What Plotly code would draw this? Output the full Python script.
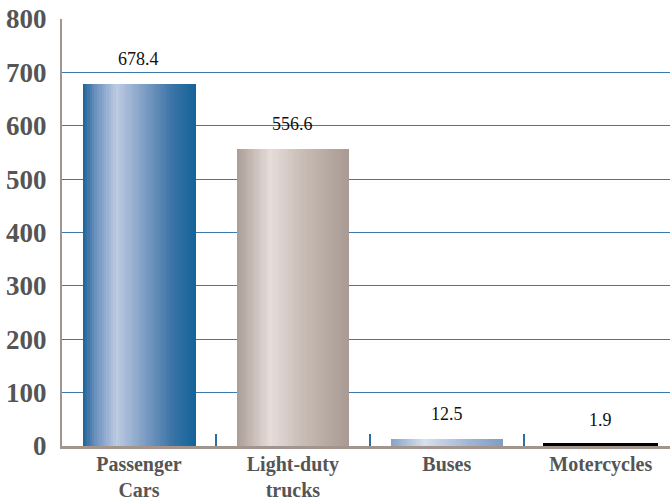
import plotly.graph_objects as go

# Vehicle categories and their values
categories = ["Passenger<br>Cars", "Light-duty<br>trucks", "Buses", "Motercycles"]
values = [678.4, 556.6, 12.5, 1.9]
value_labels = ["678.4", "556.6", "12.5", "1.9"]
y_ticks = [0, 100, 200, 300, 400, 500, 600, 700, 800]

# Horizontal colour ramps used to shade each column (position, colour)
ramps = [
    [(0.0, "#1d6397"), (0.12, "#6f93c0"), (0.3, "#bdcbe2"), (0.55, "#7d9dc4"), (0.8, "#3a73a6"), (1.0, "#13649a")],
    [(0.0, "#aa9d95"), (0.3, "#e6dcd9"), (0.6, "#c7bbb4"), (1.0, "#a89a92")],
    [(0.0, "#86a2c7"), (0.3, "#d8e0ec"), (0.7, "#a0b5d3"), (1.0, "#7c9dc4")],
    [(0.0, "#000000"), (1.0, "#000000")],
]

SERIF = "Liberation Serif, Times New Roman, serif"


def hex_to_rgb(h):
    h = h.lstrip("#")
    return tuple(int(h[i:i + 2], 16) for i in (0, 2, 4))


def ramp_color(stops, t):
    for (p0, c0), (p1, c1) in zip(stops[:-1], stops[1:]):
        if p0 <= t <= p1:
            f = 0 if p1 == p0 else (t - p0) / (p1 - p0)
            a, b = hex_to_rgb(c0), hex_to_rgb(c1)
            return "rgb({},{},{})".format(*[round(a[k] + (b[k] - a[k]) * f) for k in range(3)])
    return stops[-1][1]


bar_width = 0.73
n_strips = 48
strip_w = bar_width / n_strips

fig = go.Figure()

# Each column is built from thin vertical strips so it can carry a shaded fill
for i in range(n_strips):
    t = (i + 0.5) / n_strips
    fig.add_trace(go.Bar(
        x=categories,
        y=values,
        width=strip_w * 1.15,
        offset=-bar_width / 2 + i * strip_w,
        marker=dict(color=[ramp_color(r, t) for r in ramps], line=dict(width=0)),
        hoverinfo="skip",
        showlegend=False,
    ))

# Outline pass (only the motorcycle column gets a visible edge)
fig.add_trace(go.Bar(
    x=categories,
    y=values,
    width=bar_width,
    offset=-bar_width / 2,
    marker=dict(color="rgba(0,0,0,0)",
                line=dict(width=[0, 0, 0, 3], color="#000000")),
    hovertemplate="%{y}<extra></extra>",
    showlegend=False,
))

# Value labels above each column
for cat, val, lab in zip(categories, values, value_labels):
    fig.add_annotation(
        x=cat, y=val, text=lab, showarrow=False,
        yanchor="bottom", yshift=13,
        font=dict(family=SERIF, size=18, color="#111111"),
    )

fig.update_layout(
    width=670, height=500,
    margin=dict(l=62, r=0, t=19, b=54, autoexpand=False),
    paper_bgcolor="white",
    plot_bgcolor="white",
    barmode="overlay",
    bargap=0,
    showlegend=False,
    font=dict(family=SERIF),
    xaxis=dict(
        type="category",
        categoryorder="array",
        categoryarray=categories,
        range=[-0.5, 3.45],
        tickson="boundaries",
        ticks="inside",
        ticklen=12,
        tickwidth=1.5,
        tickcolor="#2a6fa5",
        showline=True,
        linecolor="#a3958d",
        linewidth=3,
        showgrid=False,
        automargin=False,
        tickfont=dict(family=SERIF, size=20, color="#555555", weight="bold"),
        ticklabelstandoff=-2,
    ),
    yaxis=dict(
        range=[0, 800],
        tickvals=y_ticks,
        showgrid=True,
        gridcolor="#3a7bad",
        gridwidth=1.3,
        zeroline=False,
        showline=True,
        linecolor="#a3958d",
        linewidth=2,
        ticks="",
        automargin=False,
        tickfont=dict(family=SERIF, size=27, color="#555555", weight="bold"),
        ticklabelstandoff=8,
    ),
)

fig.write_html("out.html")
